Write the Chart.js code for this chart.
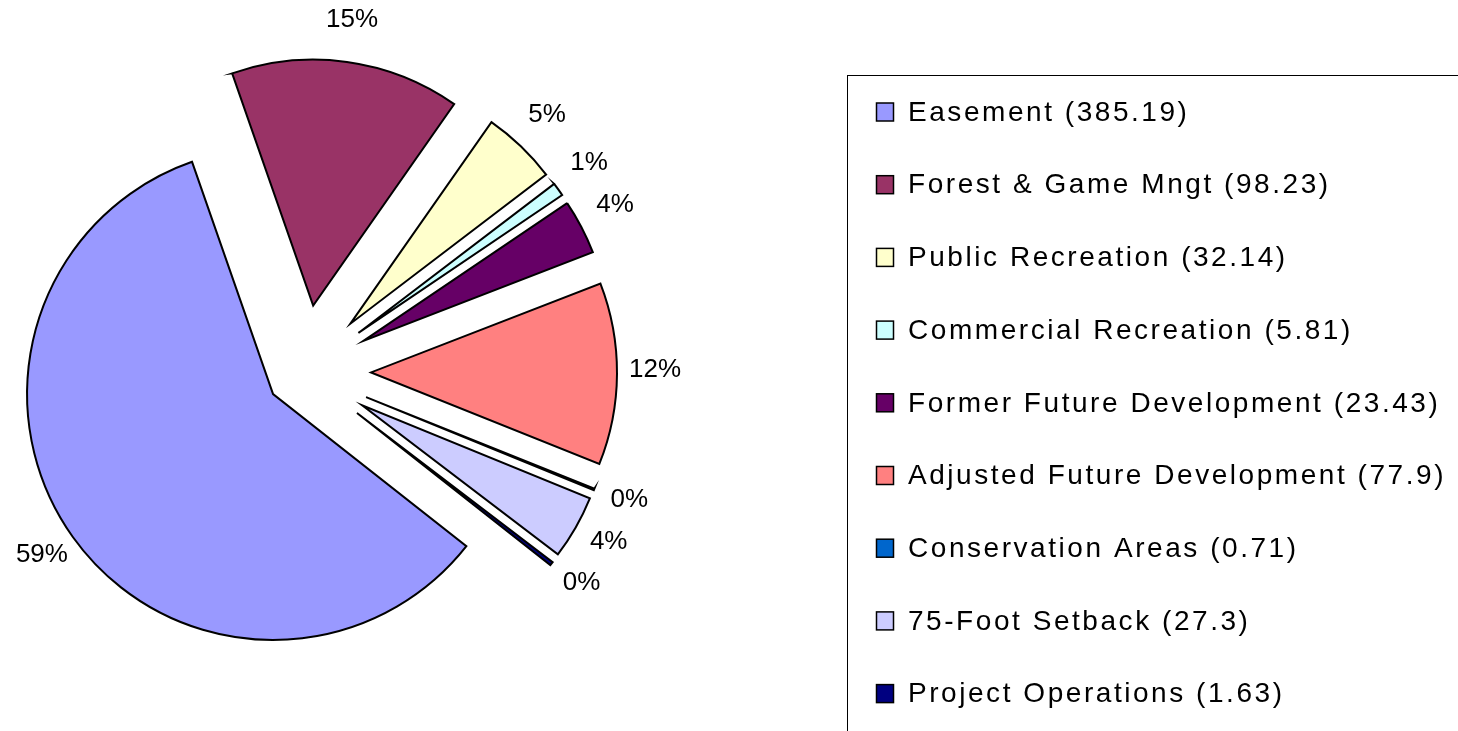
<!DOCTYPE html>
<html><head><meta charset="utf-8">
<script src="https://cdn.jsdelivr.net/npm/chart.js@4.4.1/dist/chart.umd.min.js"></script>
<style>html,body{margin:0;padding:0;background:#fff;overflow:hidden}#wrap{position:relative;width:1458px;height:731px}</style>
</head><body><div id="wrap"><canvas id="c" width="1458" height="731"></canvas></div>
<script>
const categories = ['Easement','Forest & Game Mngt','Public Recreation','Commercial Recreation','Former Future Development','Adjusted Future Development','Conservation Areas','75-Foot Setback','Project Operations'];
const acres = [385.19, 98.23, 32.14, 5.81, 23.43, 77.9, 0.71, 27.3, 1.63];
const legendLabels = categories.map((c, i) => `${c} (${acres[i]})`);
const sliceColors = ['#9999FF','#993366','#FFFFCC','#CCFFFF','#660066','#FF8080','#0066CC','#CCCCFF','#000080'];

const FONT = '"Liberation Sans", Arial, Helvetica, sans-serif';

// explode slices: move each arc's centre outward along its mid angle
const explodePlugin = {
  id: 'explode',
  afterDatasetUpdate(chart, args, opts) {
    const offs = opts.offsets || [];
    args.meta.data.forEach((arc, i) => {
      const d = offs[i] || 0;
      const mid = (arc.startAngle + arc.endAngle) / 2;
      arc.x += Math.cos(mid) * d;
      arc.y += Math.sin(mid) * d;
    });
  }
};

// percentage labels outside each slice
const pctLabelPlugin = {
  id: 'pctLabels',
  afterDatasetsDraw(chart, args, opts) {
    const ctx = chart.ctx;
    const meta = chart.getDatasetMeta(0);
    const data = chart.data.datasets[0].data;
    const total = data.reduce((a, b) => a + b, 0);
    ctx.save();
    ctx.font = `${opts.size}px ${FONT}`;
    ctx.fillStyle = '#000';
    ctx.textAlign = 'center';
    ctx.textBaseline = 'middle';
    meta.data.forEach((arc, i) => {
      const mid = (arc.startAngle + arc.endAngle) / 2;
      const r = arc.outerRadius + opts.gap;
      const txt = Math.round(data[i] / total * 100) + '%';
      ctx.fillText(txt, arc.x + Math.cos(mid) * r, arc.y + Math.sin(mid) * r + opts.dy);
    });
    ctx.restore();
  }
};

// boxed legend on the right
const boxLegendPlugin = {
  id: 'boxLegend',
  afterDraw(chart, args, o) {
    const ctx = chart.ctx;
    const items = chart.data.labels;
    const colors = chart.data.datasets[0].backgroundColor;
    ctx.save();
    ctx.strokeStyle = '#000';
    ctx.lineWidth = 1;
    ctx.strokeRect(o.boxLeft + 0.5, o.boxTop + 0.5, chart.width, chart.height);
    ctx.font = `${o.size}px ${FONT}`;
    ctx.textBaseline = 'middle';
    ctx.textAlign = 'left';
    if ('letterSpacing' in ctx) ctx.letterSpacing = o.letterSpacing;
    items.forEach((label, i) => {
      const cy = o.firstRow + i * o.rowPitch;
      ctx.fillStyle = colors[i];
      ctx.fillRect(o.markerX, cy - o.markerH / 2, o.markerW, o.markerH);
      ctx.lineWidth = 1.5;
      ctx.strokeStyle = '#000';
      ctx.strokeRect(o.markerX, cy - o.markerH / 2, o.markerW, o.markerH);
      ctx.fillStyle = '#000';
      ctx.fillText(label, o.textX, cy + 1);
    });
    ctx.restore();
  }
};

new Chart(document.getElementById('c'), {
  type: 'pie',
  data: {
    labels: legendLabels,
    datasets: [{
      data: acres,
      backgroundColor: sliceColors,
      borderColor: '#000',
      borderWidth: 2,
      borderJoinStyle: 'miter',
      clip: false
    }]
  },
  options: {
    responsive: false,
    devicePixelRatio: 1,
    animation: false,
    rotation: 128.2,
    radius: 246,
    layout: { padding: { left: 0, top: 13, right: 850, bottom: 0 } },
    events: [],
    plugins: {
      legend: { display: false },
      tooltip: { enabled: false },
      explode: { offsets: [38, 67, 67, 67, 67, 67, 67, 67, 67] },
      pctLabels: { size: 26, gap: 38, dy: -4 },
      boxLegend: { boxLeft: 847, boxTop: 75, size: 28, letterSpacing: '2.55px', firstRow: 112, rowPitch: 72.7, markerX: 876.5, markerW: 17, markerH: 18, textX: 908 }
    }
  },
  plugins: [explodePlugin, pctLabelPlugin, boxLegendPlugin]
});
</script>
</body></html>
